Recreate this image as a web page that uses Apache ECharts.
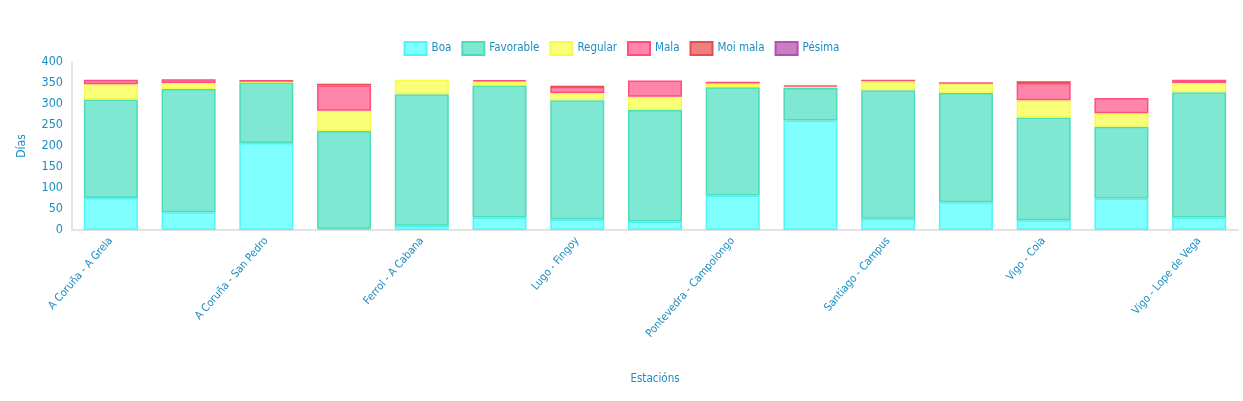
<!DOCTYPE html>
<html>
<head>
<meta charset="utf-8">
<script src="https://cdn.jsdelivr.net/npm/echarts@6.0.0/dist/echarts.min.js"></script>
<style>
  html, body { margin: 0; padding: 0; background: #fff; }
  #chart { width: 1243px; height: 401px; }
</style>
</head>
<body>
<div id="chart"></div>
<script>
// Days per air-quality category at each station (stacked bars)
const stations = [
  'A Coruña - A Grela', 'A Coruña - Riazor', 'A Coruña - San Pedro', 'A Coruña - Santa Margarita',
  'Ferrol - A Cabana', 'Ferrol - Esteiro', 'Lugo - Fingoy', 'Ourense - Concepción Arenal',
  'Pontevedra - Campolongo', 'Pontevedra - Lourizán', 'Santiago - Campus', 'Santiago - San Caetano',
  'Vigo - Coia', 'Vigo - Este', 'Vigo - Lope de Vega'
]
const boa       = [76, 42, 207, 3, 10, 30, 25, 20, 82, 261, 27, 66, 23, 75, 30]
const favorable = [235, 294, 145, 233, 313, 314, 284, 266, 258, 77, 306, 260, 245, 171, 298]
const regular   = [36, 14, 1, 48, 35, 10, 17, 31, 9, 4, 21, 22, 41, 32, 22]
const mala      = [11, 9, 4, 60, 0, 3, 15, 39, 4, 2, 4, 4, 41, 36, 8]
const moiMala   = [0, 0, 0, 4, 0, 0, 1, 0, 0, 0, 0, 0, 4, 0, 0]
const pesima    = [0, 0, 0, 0, 0, 0, 0, 0, 0, 0, 0, 0, 0, 0, 0]
const yTicks = { min: 0, max: 400, interval: 50 }

// no narrow web font offline: ask canvas for the condensed face via the font shorthand
const FONT = '"DejaVu Sans", sans-serif'
const STRETCH = 'condensed'
const INK = '#1b8dc0'
const AXIS = '#e3e3e3'

function txt(size) {
  return { color: INK, fontSize: size, fontFamily: FONT, fontWeight: STRETCH }
}

function stackSeries(name, data, fill, border) {
  return {
    name, type: 'bar', stack: 'dias', barWidth: 54,
    // zero days -> no segment, otherwise the empty bar still paints its border
    data: data.map(v => (v === 0 ? '-' : v)),
    itemStyle: { color: fill, borderColor: border, borderWidth: 1.5 },
    emphasis: { disabled: true },
  }
}

const chart = echarts.init(document.getElementById('chart'), null, { renderer: 'canvas' })
chart.setOption({
  animation: false,
  textStyle: { fontFamily: FONT },
  legend: {
    top: 36, left: 'center', itemWidth: 22, itemHeight: 13, itemGap: 10,
    icon: 'rect',
    textStyle: txt(11.5),
  },
  grid: { left: 72, right: 5, top: 62, bottom: 171, containLabel: false },
  xAxis: {
    type: 'category', data: stations,
    name: 'Estacións', nameLocation: 'middle', nameGap: 143,
    nameTextStyle: txt(11.5),
    axisLine: { lineStyle: { color: AXIS, width: 2 } },
    axisTick: { show: false },
    axisLabel: Object.assign(txt(11), { rotate: 49, interval: 1, margin: 9 }),
  },
  yAxis: {
    type: 'value', min: yTicks.min, max: yTicks.max, interval: yTicks.interval,
    name: 'Días', nameLocation: 'middle', nameGap: 44,
    nameTextStyle: txt(12),
    axisLine: { show: true, lineStyle: { color: AXIS, width: 2 } },
    axisTick: { show: false },
    splitLine: { show: false },
    axisLabel: Object.assign(txt(12.5), { margin: 9 }),
  },
  series: [
    stackSeries('Boa', boa, '#80ffff', '#4ff5f5'),
    stackSeries('Favorable', favorable, '#7fe8d3', '#4cdcb6'),
    stackSeries('Regular', regular, '#faff7a', '#f5fb4c'),
    stackSeries('Mala', mala, '#ff85ab', '#ff4d80'),
    stackSeries('Moi mala', moiMala, '#f08080', '#e34f4f'),
    stackSeries('Pésima', pesima, '#c880c0', '#b052b0'),
  ],
})
</script>
</body>
</html>
